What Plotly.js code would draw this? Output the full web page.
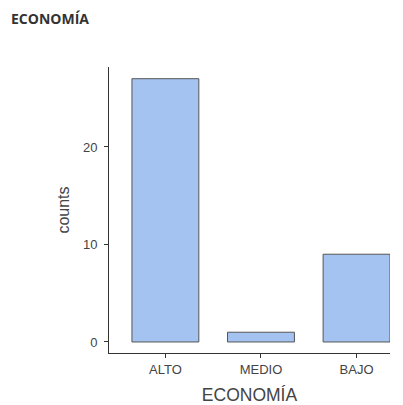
<!DOCTYPE html>
<html>
<head>
<meta charset="utf-8">
<script src="https://cdn.plot.ly/plotly-3.0.1.min.js"></script>
<style>html,body{margin:0;padding:0;background:#fff;}#chart{width:403px;height:405px;}</style>
</head>
<body>
<div id="chart"></div>
<script>
const categories = ["ALTO", "MEDIO", "BAJO"];
const counts = [27, 1, 9];
const yTicks = [0, 10, 20];

const trace = {
  type: "bar",
  x: categories,
  y: counts,
  width: 0.7,
  marker: {color: "#a4c3f1", line: {color: "#555555", width: 1}},
  hoverinfo: "x+y"
};

const layout = {
  width: 403, height: 405,
  margin: {l: 109, r: 13, t: 67, b: 52},
  paper_bgcolor: "#ffffff", plot_bgcolor: "#ffffff",
  showlegend: false,
  font: {family: "Liberation Sans, Arial, sans-serif", color: "#333333"},
  annotations: [{
    text: "<b>ECONOMÍA</b>", xref: "paper", yref: "paper", x: 0, y: 1,
    xanchor: "left", yanchor: "top", showarrow: false,
    font: {family: "Open Sans, sans-serif", size: 14, color: "#333333"},
    xshift: -100, yshift: 60
  }],
  xaxis: {
    type: "category", range: [-0.59, 2.35],
    showline: true, linecolor: "#333333", linewidth: 1,
    ticks: "outside", ticklen: 4, tickcolor: "#333333",
    showgrid: false, zeroline: false,
    tickfont: {size: 13, color: "#444444"},
    title: {text: "ECONOMÍA", font: {size: 17.5, color: "#444444"}, standoff: 13}
  },
  yaxis: {
    range: [-1.13, 28.2],
    tickvals: yTicks, ticktext: yTicks.map(String),
    showline: true, linecolor: "#333333", linewidth: 1,
    ticks: "outside", ticklen: 4, tickcolor: "#333333",
    ticklabelstandoff: 4,
    showgrid: false, zeroline: false,
    tickfont: {size: 13, color: "#444444"},
    title: {text: "counts", font: {size: 16, color: "#444444"}, standoff: 9}
  }
};

Plotly.newPlot("chart", [trace], layout, {displayModeBar: false, staticPlot: true});
</script>
</body>
</html>
